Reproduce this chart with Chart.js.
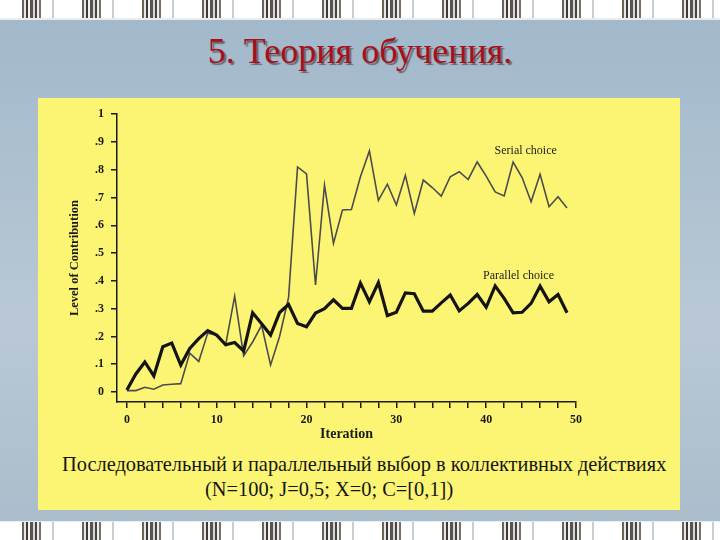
<!DOCTYPE html>
<html>
<head>
<meta charset="utf-8">
<script src="https://cdn.jsdelivr.net/npm/chart.js@4.4.0/dist/chart.umd.min.js"></script>
<style>
  body {
    margin: 0;
    width: 720px;
    height: 540px;
    overflow: hidden;
    position: relative;
    background: linear-gradient(#a0b8cb, #b9c8d4 60%, #a9bccb);
    font-family: 'Liberation Serif', 'Times New Roman', serif;
  }
  .strip {
    position: absolute;
    left: 0;
    width: 720px;
    height: 18px;
    background: repeating-linear-gradient(90deg,
      #fff 0px, #fff 22px,
      #6b6259 22px, #6b6259 24px, #e6e6e6 24px, #e6e6e6 26px,
      #3f3a36 26px, #3f3a36 28px, #f2f2f2 28px, #f2f2f2 30px,
      #5a534d 30px, #5a534d 33px, #d6d6d6 33px, #d6d6d6 35px,
      #4a4440 35px, #4a4440 37px, #eee 37px, #eee 39px,
      #77706a 39px, #77706a 41px, #fff 41px, #fff 52px,
      #c9ced4 52px, #c9ced4 54px, #fff 54px, #fff 60px);
  }
  #top { top: 0; border-bottom: 2px solid #e8edf2; }
  #bottom { top: 521px; border-top: 1px solid #e8edf2; }
  #title {
    position: absolute;
    top: 30px;
    left: 0;
    width: 720px;
    text-align: center;
    font-size: 36px;
    color: #a80f1a;
    text-shadow: 2px 2px 1px rgba(40, 20, 20, 0.5);
  }
  #panel {
    position: absolute;
    left: 38px;
    top: 98px;
    width: 642px;
    height: 412px;
    background: #fcf574;
  }
  #wrap {
    position: absolute;
    left: 0;
    top: 2px;
    width: 642px;
    height: 345px;
  }
  .cap {
    position: absolute;
    white-space: nowrap;
    font-size: 20.4px;
    color: #151515;
  }
</style>
</head>
<body>
<div class="strip" id="top"></div>
<div id="title">5. Теория обучения.</div>
<div id="panel">
  <div id="wrap"><canvas id="grafica"></canvas></div>
  <div class="cap" style="left:24px; top:355px;">Последовательный и параллельный выбор в коллективных действиях</div>
  <div class="cap" style="left:167px; top:380px;">(N=100; J=0,5; X=0; C=[0,1])</div>
</div>
<div class="strip" id="bottom"></div>

<script>
// Iteraciones (eje x)
const iteraciones = [0, 1, 2, 3, 4, 5, 6, 7, 8, 9, 10, 11, 12, 13, 14, 15, 16, 17, 18, 19,
  20, 21, 22, 23, 24, 25, 26, 27, 28, 29, 30, 31, 32, 33, 34, 35, 36, 37, 38, 39,
  40, 41, 42, 43, 44, 45, 46, 47, 48, 49];

// Serial choice (línea fina)
const serialChoice = [0.005, 0.005, 0.017, 0.010, 0.025, 0.028, 0.030, 0.140, 0.110, 0.212,
  0.205, 0.170, 0.345, 0.130, 0.180, 0.240, 0.097, 0.200, 0.340, 0.810,
  0.785, 0.385, 0.745, 0.535, 0.655, 0.657, 0.775, 0.868, 0.690, 0.748,
  0.673, 0.780, 0.643, 0.763, 0.736, 0.705, 0.775, 0.793, 0.765, 0.828,
  0.777, 0.720, 0.706, 0.828, 0.772, 0.685, 0.784, 0.667, 0.703, 0.662];

// Parallel choice (línea gruesa)
const parallelChoice = [0.007, 0.065, 0.108, 0.058, 0.163, 0.176, 0.097, 0.157, 0.192, 0.221,
  0.205, 0.170, 0.178, 0.148, 0.285, 0.246, 0.205, 0.286, 0.315, 0.247,
  0.235, 0.284, 0.300, 0.332, 0.301, 0.301, 0.392, 0.325, 0.394, 0.275,
  0.287, 0.357, 0.354, 0.291, 0.291, 0.321, 0.349, 0.292, 0.319, 0.351,
  0.305, 0.382, 0.337, 0.285, 0.287, 0.319, 0.381, 0.325, 0.351, 0.285];

// Marcas de los ejes
const xTicks = [0, 2, 4, 6, 8, 10, 12, 14, 16, 18, 20, 22, 24, 26, 28, 30, 32, 34, 36, 38, 40, 42, 44, 46, 48, 50];
const xLabels = [0, 10, 20, 30, 40, 50];
const yTicks = [0, 0.1, 0.2, 0.3, 0.4, 0.5, 0.6, 0.7, 0.8, 0.9, 1];
const yLabels = ['0', '.1', '.2', '.3', '.4', '.5', '.6', '.7', '.8', '.9', '1'];

const seriesNames = ['Serial choice', 'Parallel choice'];

const axisColor = '#1a1a1a';
const tickFont = { family: "'Liberation Serif', serif", size: 12, weight: 'bold' };

// Etiquetas de las líneas, en coordenadas de datos
const etiquetas = {
  id: 'etiquetas',
  afterDatasetsDraw(chart) {
    const { ctx, scales } = chart;
    const pos = [{ x: 44.4, y: 0.868 }, { x: 43.6, y: 0.418 }];
    ctx.save();
    ctx.font = "12px 'Liberation Serif', serif";
    ctx.fillStyle = '#222';
    ctx.textAlign = 'center';
    ctx.textBaseline = 'middle';
    seriesNames.forEach((name, i) => {
      ctx.fillText(name, scales.x.getPixelForValue(pos[i].x), scales.y.getPixelForValue(pos[i].y));
    });
    ctx.restore();
  },
};

const ctx = document.getElementById('grafica').getContext('2d');

new Chart(ctx, {
  type: 'line',
  data: {
    datasets: [
      {
        label: seriesNames[1],
        data: iteraciones.map((it, i) => ({ x: it, y: parallelChoice[i] })),
        borderColor: '#141414',
        borderWidth: 3.2,
        pointRadius: 0,
        tension: 0,
      },
      {
        label: seriesNames[0],
        data: iteraciones.map((it, i) => ({ x: it, y: serialChoice[i] })),
        borderColor: '#4c4c4c',
        borderWidth: 1.6,
        pointRadius: 0,
        tension: 0,
      },
    ],
  },
  options: {
    responsive: true,
    maintainAspectRatio: false,
    animation: false,
    layout: { padding: { left: 0, right: 104, top: 14, bottom: 0 } },
    plugins: {
      legend: { display: false },
      tooltip: { enabled: false },
    },
    scales: {
      x: {
        type: 'linear',
        min: -1.1,
        max: 50,
        afterBuildTicks: (scale) => { scale.ticks = xTicks.map(v => ({ value: v })); },
        afterFit: (scale) => { scale.height = 43; },
        ticks: {
          autoSkip: false,
          maxRotation: 0,
          padding: 5,
          color: axisColor,
          font: tickFont,
          callback: (v) => (xLabels.includes(v) ? String(v) : ''),
        },
        grid: { drawOnChartArea: false, drawTicks: true, tickLength: 6, color: axisColor, lineWidth: 1.5 },
        border: { display: true, color: axisColor, width: 1.5 },
        title: {
          display: true,
          text: 'Iteration',
          color: axisColor,
          font: { family: "'Liberation Serif', serif", size: 14, weight: 'bold' },
          padding: { top: 0, bottom: 2 },
        },
      },
      y: {
        type: 'linear',
        min: -0.036,
        max: 1,
        afterBuildTicks: (scale) => { scale.ticks = yTicks.map(v => ({ value: v })); },
        afterFit: (scale) => { scale.width = 79; },
        ticks: {
          autoSkip: false,
          padding: 7,
          color: axisColor,
          font: tickFont,
          callback: (v) => yLabels[yTicks.findIndex(t => Math.abs(t - v) < 1e-6)],
        },
        grid: { drawOnChartArea: false, drawTicks: true, tickLength: 6, color: axisColor, lineWidth: 1.5 },
        border: { display: true, color: axisColor, width: 1.5 },
        title: {
          display: true,
          text: 'Level of Contribution',
          color: axisColor,
          font: { family: "'Liberation Serif', serif", size: 12.5, weight: 'bold' },
          padding: { top: 29, bottom: 0 },
        },
      },
    },
  },
  plugins: [etiquetas],
});
</script>
</body>
</html>
